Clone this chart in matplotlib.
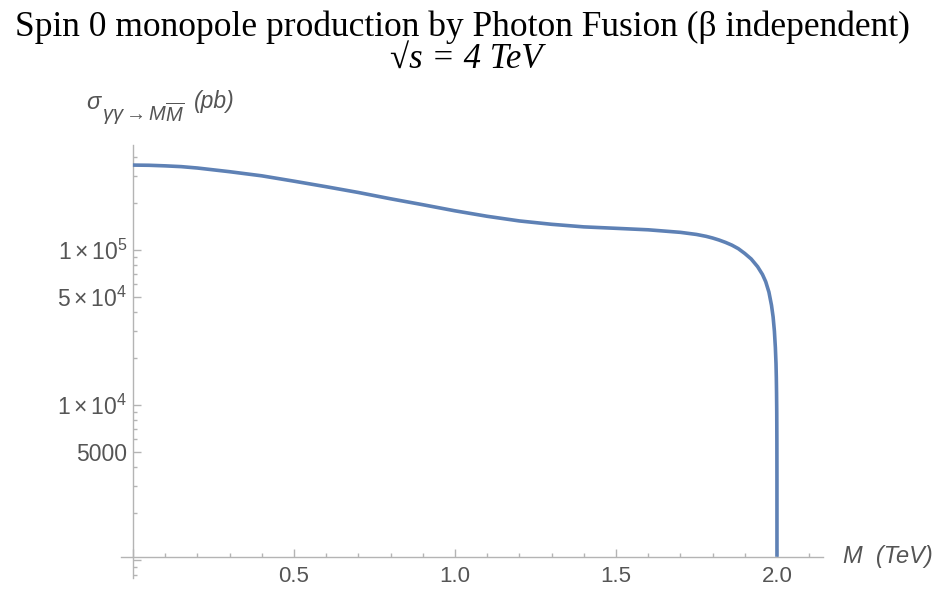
import matplotlib
matplotlib.use('Agg')
import matplotlib.pyplot as plt
from matplotlib.ticker import FixedLocator, FixedFormatter, NullFormatter

# ---- data ----
mass_TeV = [0.0, 0.05, 0.1, 0.15, 0.2, 0.3, 0.4, 0.5, 0.6, 0.7, 0.8, 0.9,
            1.0, 1.1, 1.2, 1.3, 1.4, 1.5, 1.6, 1.7, 1.75, 1.78, 1.8, 1.82,
            1.84, 1.86, 1.88, 1.9, 1.92, 1.94, 1.955, 1.965, 1.975, 1.983,
            1.988, 1.992, 1.995, 1.997, 1.998, 1.9987, 1.9993, 1.9997,
            1.9999, 2.0]
sigma_pb = [3.53e5, 3.52e5, 3.49e5, 3.45e5, 3.38e5, 3.20e5, 3.01e5, 2.78e5,
            2.56e5, 2.35e5, 2.14e5, 1.96e5, 1.79e5, 1.65e5, 1.54e5, 1.465e5,
            1.41e5, 1.38e5, 1.35e5, 1.30e5, 1.26e5, 1.225e5, 1.195e5,
            1.16e5, 1.12e5, 1.075e5, 1.02e5, 9.5e4, 8.75e4, 7.8e4, 6.95e4,
            6.25e4, 5.35e4, 4.4e4, 3.7e4, 3.0e4, 2.35e4, 1.85e4, 1.5e4,
            1.2e4, 9.0e3, 5.8e3, 3.3e3, 1.05e3]

x_major = [0.0, 0.5, 1.0, 1.5, 2.0]
x_major_labels = ['', '0.5', '1.0', '1.5', '2.0']
x_minor = [0.1, 0.2, 0.3, 0.4, 0.6, 0.7, 0.8, 0.9, 1.1, 1.2, 1.3, 1.4,
           1.6, 1.7, 1.8, 1.9, 2.1]
y_major = [1000, 5000, 10000, 50000, 100000]
y_major_labels = ['', '5000', r'$1\times10^{4}$', r'$5\times10^{4}$',
                  r'$1\times10^{5}$']
y_minor = [800, 900, 2000, 3000, 4000, 6000, 7000, 8000, 9000,
           20000, 30000, 40000, 60000, 70000, 80000, 90000,
           200000, 300000, 400000]

title_line1 = 'Spin 0 monopole production by Photon Fusion (\u03b2 independent)'
title_line2 = '\u221as = 4 TeV'
y_label_main = r'$\sigma$'
y_label_sub = r'$\gamma\gamma\rightarrow M\overline{M}$'
y_label_unit = '(pb)'
x_label = 'M  (TeV)'

# ---- style ----
plt.rcParams['font.family'] = ['Liberation Sans', 'DejaVu Sans']
plt.rcParams['mathtext.fontset'] = 'custom'
plt.rcParams['mathtext.rm'] = 'Liberation Sans'
plt.rcParams['mathtext.it'] = 'Liberation Sans:italic'
plt.rcParams['mathtext.bf'] = 'Liberation Sans:bold'

LINE = '#5E81B5'
AXIS = '#b4b4b4'
TXT = '#555555'
W, H = 946, 589

fig = plt.figure(figsize=(W / 100, H / 100), dpi=100)
ax = fig.add_axes([121 / W, 1 - 578 / H, (822.7 - 121) / W, (578 - 145) / H])
ax.set_yscale('log')
ax.set_xlim(-0.037, 2.142)
ax.set_ylim(766, 4.757e5)

ax.plot(mass_TeV, sigma_pb, color=LINE, lw=2.6, solid_capstyle='butt',
        solid_joinstyle='round', zorder=3)

for s in ['top', 'right']:
    ax.spines[s].set_visible(False)
ax.spines['left'].set_position(('data', 0))
ax.spines['bottom'].set_position(('data', 1046))
for s in ['left', 'bottom']:
    ax.spines[s].set_color(AXIS)
    ax.spines[s].set_linewidth(1.0)

ax.xaxis.set_major_locator(FixedLocator(x_major))
ax.xaxis.set_major_formatter(FixedFormatter(x_major_labels))
ax.xaxis.set_minor_locator(FixedLocator(x_minor))
ax.xaxis.set_minor_formatter(NullFormatter())
ax.yaxis.set_major_locator(FixedLocator(y_major))
ax.yaxis.set_major_formatter(FixedFormatter(y_major_labels))
ax.yaxis.set_minor_locator(FixedLocator(y_minor))
ax.yaxis.set_minor_formatter(NullFormatter())

ax.tick_params(which='both', direction='in', color=AXIS, width=1.0,
               labelcolor=TXT)
ax.tick_params(which='major', length=5.5)
ax.tick_params(which='minor', length=3)
ax.tick_params(axis='x', which='major', pad=6.5, labelsize=16)
ax.tick_params(axis='y', which='major', pad=4, labelsize=16.5)

# titles
serif = ['Liberation Serif', 'DejaVu Serif']
fig.text(462 / W, 1 - 36 / H, title_line1, ha='center', va='baseline',
         fontsize=25.5, family=serif, color='black')
fig.text(466 / W, 1 - 68 / H, title_line2, ha='center', va='baseline',
         fontsize=25, style='italic', family=serif, color='black')

# axis labels
fig.text(86 / W, 1 - 109 / H, y_label_main, ha='left', va='baseline',
         fontsize=17, color=TXT)
fig.text(102 / W, 1 - 121 / H, y_label_sub, ha='left', va='baseline',
         fontsize=14.5, color=TXT)
fig.text(194 / W, 1 - 108 / H, y_label_unit, ha='left', va='baseline',
         fontsize=16.5, style='italic', color=TXT)
fig.text(843 / W, 1 - 557 / H, x_label, ha='left', va='center',
         fontsize=17, style='italic', color=TXT)

fig.savefig('out.png', dpi=100)
